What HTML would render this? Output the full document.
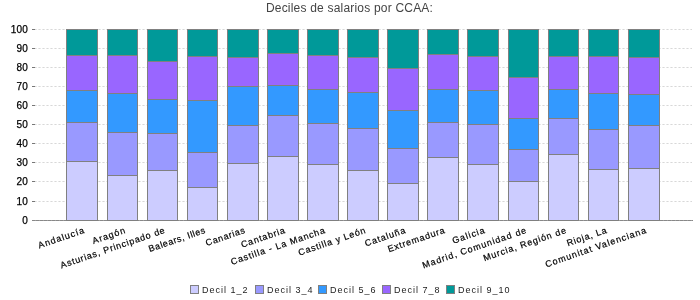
<!DOCTYPE html>
<html><head><meta charset="utf-8"><style>
html,body{margin:0;padding:0;background:#fff;}
body{width:700px;height:300px;position:relative;overflow:hidden;font-family:"Liberation Sans",sans-serif;}
.a{position:absolute;}
.t,.yl,.xl span,.lt{filter:grayscale(1);}
.t{position:absolute;left:-0.5px;width:700px;text-align:center;top:1px;font-size:12px;color:#444;line-height:15px;letter-spacing:0.2px;}
.yl{position:absolute;right:672px;font-size:10px;line-height:10px;color:#000;text-align:right;letter-spacing:0.2px;-webkit-text-stroke:0.25px #000;}
.tk{position:absolute;left:32px;width:3px;height:1px;background:#777;}
.gr{position:absolute;left:34px;width:658px;height:1px;background:repeating-linear-gradient(to right,#e8e8e8 0,#e8e8e8 1px,#d8d8d8 1px,#d8d8d8 2px,#e8e8e8 2px,#e8e8e8 3px,transparent 3px,transparent 4px);}
.s{position:absolute;box-sizing:border-box;border:1px solid #808080;}
.xl{position:absolute;width:0;height:0;}
.xl span{position:absolute;right:0;top:0;white-space:nowrap;font-size:9px;line-height:10px;color:#000;-webkit-text-stroke:0.2px #000;transform-origin:100% 0;transform:rotate(-19deg);letter-spacing:1px;}
.lg{position:absolute;top:285px;width:9px;height:9px;box-sizing:border-box;border:1px solid #808080;}
.lt{position:absolute;top:284.7px;font-size:9px;line-height:11px;color:#222;letter-spacing:1px;white-space:nowrap;}
</style></head><body>
<div class="t">Deciles de salarios por CCAA:</div>
<div class="gr" style="top:29px"></div><div class="tk" style="top:29px"></div><div class="yl" style="top:25px">100</div>
<div class="gr" style="top:48px"></div><div class="tk" style="top:48px"></div><div class="yl" style="top:44px">90</div>
<div class="gr" style="top:67px"></div><div class="tk" style="top:67px"></div><div class="yl" style="top:63px">80</div>
<div class="gr" style="top:86px"></div><div class="tk" style="top:86px"></div><div class="yl" style="top:82px">70</div>
<div class="gr" style="top:105px"></div><div class="tk" style="top:105px"></div><div class="yl" style="top:101px">60</div>
<div class="gr" style="top:124px"></div><div class="tk" style="top:124px"></div><div class="yl" style="top:120px">50</div>
<div class="gr" style="top:143px"></div><div class="tk" style="top:143px"></div><div class="yl" style="top:139px">40</div>
<div class="gr" style="top:162px"></div><div class="tk" style="top:162px"></div><div class="yl" style="top:158px">30</div>
<div class="gr" style="top:181px"></div><div class="tk" style="top:181px"></div><div class="yl" style="top:177px">20</div>
<div class="gr" style="top:201px"></div><div class="tk" style="top:201px"></div><div class="yl" style="top:197px">10</div>
<div class="tk" style="top:220px"></div><div class="yl" style="top:216px">0</div>
<div class="a" style="left:32px;top:220px;width:661px;height:1px;background:repeating-linear-gradient(to right,#888 0,#888 3px,#9c9c9c 3px,#9c9c9c 4px);"></div>
<div class="s" style="left:66px;top:29px;width:32px;height:27px;background:#009999"></div><div class="s" style="left:66px;top:55px;width:32px;height:36px;background:#9966ff"></div><div class="s" style="left:66px;top:90px;width:32px;height:33px;background:#3399ff"></div><div class="s" style="left:66px;top:122px;width:32px;height:40px;background:#9999ff"></div><div class="s" style="left:66px;top:161px;width:32px;height:60px;background:#ccccff"></div>
<div class="s" style="left:107px;top:29px;width:31px;height:27px;background:#009999"></div><div class="s" style="left:107px;top:55px;width:31px;height:39px;background:#9966ff"></div><div class="s" style="left:107px;top:93px;width:31px;height:40px;background:#3399ff"></div><div class="s" style="left:107px;top:132px;width:31px;height:44px;background:#9999ff"></div><div class="s" style="left:107px;top:175px;width:31px;height:46px;background:#ccccff"></div>
<div class="s" style="left:147px;top:29px;width:31px;height:33px;background:#009999"></div><div class="s" style="left:147px;top:61px;width:31px;height:39px;background:#9966ff"></div><div class="s" style="left:147px;top:99px;width:31px;height:35px;background:#3399ff"></div><div class="s" style="left:147px;top:133px;width:31px;height:38px;background:#9999ff"></div><div class="s" style="left:147px;top:170px;width:31px;height:51px;background:#ccccff"></div>
<div class="s" style="left:187px;top:29px;width:31px;height:28px;background:#009999"></div><div class="s" style="left:187px;top:56px;width:31px;height:45px;background:#9966ff"></div><div class="s" style="left:187px;top:100px;width:31px;height:53px;background:#3399ff"></div><div class="s" style="left:187px;top:152px;width:31px;height:36px;background:#9999ff"></div><div class="s" style="left:187px;top:187px;width:31px;height:34px;background:#ccccff"></div>
<div class="s" style="left:227px;top:29px;width:32px;height:29px;background:#009999"></div><div class="s" style="left:227px;top:57px;width:32px;height:30px;background:#9966ff"></div><div class="s" style="left:227px;top:86px;width:32px;height:40px;background:#3399ff"></div><div class="s" style="left:227px;top:125px;width:32px;height:39px;background:#9999ff"></div><div class="s" style="left:227px;top:163px;width:32px;height:58px;background:#ccccff"></div>
<div class="s" style="left:267px;top:29px;width:32px;height:25px;background:#009999"></div><div class="s" style="left:267px;top:53px;width:32px;height:33px;background:#9966ff"></div><div class="s" style="left:267px;top:85px;width:32px;height:31px;background:#3399ff"></div><div class="s" style="left:267px;top:115px;width:32px;height:42px;background:#9999ff"></div><div class="s" style="left:267px;top:156px;width:32px;height:65px;background:#ccccff"></div>
<div class="s" style="left:307px;top:29px;width:32px;height:27px;background:#009999"></div><div class="s" style="left:307px;top:55px;width:32px;height:35px;background:#9966ff"></div><div class="s" style="left:307px;top:89px;width:32px;height:35px;background:#3399ff"></div><div class="s" style="left:307px;top:123px;width:32px;height:42px;background:#9999ff"></div><div class="s" style="left:307px;top:164px;width:32px;height:57px;background:#ccccff"></div>
<div class="s" style="left:347px;top:29px;width:32px;height:29px;background:#009999"></div><div class="s" style="left:347px;top:57px;width:32px;height:36px;background:#9966ff"></div><div class="s" style="left:347px;top:92px;width:32px;height:37px;background:#3399ff"></div><div class="s" style="left:347px;top:128px;width:32px;height:43px;background:#9999ff"></div><div class="s" style="left:347px;top:170px;width:32px;height:51px;background:#ccccff"></div>
<div class="s" style="left:387px;top:29px;width:32px;height:40px;background:#009999"></div><div class="s" style="left:387px;top:68px;width:32px;height:43px;background:#9966ff"></div><div class="s" style="left:387px;top:110px;width:32px;height:39px;background:#3399ff"></div><div class="s" style="left:387px;top:148px;width:32px;height:36px;background:#9999ff"></div><div class="s" style="left:387px;top:183px;width:32px;height:38px;background:#ccccff"></div>
<div class="s" style="left:427px;top:29px;width:32px;height:26px;background:#009999"></div><div class="s" style="left:427px;top:54px;width:32px;height:36px;background:#9966ff"></div><div class="s" style="left:427px;top:89px;width:32px;height:34px;background:#3399ff"></div><div class="s" style="left:427px;top:122px;width:32px;height:36px;background:#9999ff"></div><div class="s" style="left:427px;top:157px;width:32px;height:64px;background:#ccccff"></div>
<div class="s" style="left:467px;top:29px;width:32px;height:28px;background:#009999"></div><div class="s" style="left:467px;top:56px;width:32px;height:35px;background:#9966ff"></div><div class="s" style="left:467px;top:90px;width:32px;height:35px;background:#3399ff"></div><div class="s" style="left:467px;top:124px;width:32px;height:41px;background:#9999ff"></div><div class="s" style="left:467px;top:164px;width:32px;height:57px;background:#ccccff"></div>
<div class="s" style="left:508px;top:29px;width:31px;height:49px;background:#009999"></div><div class="s" style="left:508px;top:77px;width:31px;height:42px;background:#9966ff"></div><div class="s" style="left:508px;top:118px;width:31px;height:32px;background:#3399ff"></div><div class="s" style="left:508px;top:149px;width:31px;height:33px;background:#9999ff"></div><div class="s" style="left:508px;top:181px;width:31px;height:40px;background:#ccccff"></div>
<div class="s" style="left:548px;top:29px;width:31px;height:28px;background:#009999"></div><div class="s" style="left:548px;top:56px;width:31px;height:34px;background:#9966ff"></div><div class="s" style="left:548px;top:89px;width:31px;height:30px;background:#3399ff"></div><div class="s" style="left:548px;top:118px;width:31px;height:37px;background:#9999ff"></div><div class="s" style="left:548px;top:154px;width:31px;height:67px;background:#ccccff"></div>
<div class="s" style="left:588px;top:29px;width:31px;height:28px;background:#009999"></div><div class="s" style="left:588px;top:56px;width:31px;height:38px;background:#9966ff"></div><div class="s" style="left:588px;top:93px;width:31px;height:37px;background:#3399ff"></div><div class="s" style="left:588px;top:129px;width:31px;height:41px;background:#9999ff"></div><div class="s" style="left:588px;top:169px;width:31px;height:52px;background:#ccccff"></div>
<div class="s" style="left:628px;top:29px;width:32px;height:29px;background:#009999"></div><div class="s" style="left:628px;top:57px;width:32px;height:38px;background:#9966ff"></div><div class="s" style="left:628px;top:94px;width:32px;height:32px;background:#3399ff"></div><div class="s" style="left:628px;top:125px;width:32px;height:44px;background:#9999ff"></div><div class="s" style="left:628px;top:168px;width:32px;height:53px;background:#ccccff"></div>
<div class="xl" style="left:82.80px;top:225.2px"><span style="letter-spacing:1px">Andalucía</span></div>
<div class="xl" style="left:123.80px;top:225.2px"><span style="letter-spacing:1px">Aragón</span></div>
<div class="xl" style="left:163.80px;top:225.2px"><span style="letter-spacing:0.78px">Asturias, Principado de</span></div>
<div class="xl" style="left:203.80px;top:225.2px"><span style="letter-spacing:0.59px">Balears, Illes</span></div>
<div class="xl" style="left:243.80px;top:225.2px"><span style="letter-spacing:0.68px">Canarias</span></div>
<div class="xl" style="left:283.80px;top:225.2px"><span style="letter-spacing:0.855px">Cantabria</span></div>
<div class="xl" style="left:323.80px;top:225.2px"><span style="letter-spacing:0.88px">Castilla - La Mancha</span></div>
<div class="xl" style="left:363.80px;top:225.2px"><span style="letter-spacing:0.81px">Castilla y León</span></div>
<div class="xl" style="left:403.80px;top:225.2px"><span style="letter-spacing:0.89px">Cataluña</span></div>
<div class="xl" style="left:443.80px;top:225.2px"><span style="letter-spacing:0.81px">Extremadura</span></div>
<div class="xl" style="left:483.80px;top:225.2px"><span style="letter-spacing:1px">Galicia</span></div>
<div class="xl" style="left:524.80px;top:225.2px"><span style="letter-spacing:0.95px">Madrid, Comunidad de</span></div>
<div class="xl" style="left:564.80px;top:225.2px"><span style="letter-spacing:0.87px">Murcia, Región de</span></div>
<div class="xl" style="left:604.80px;top:225.2px"><span style="letter-spacing:0.75px">Rioja, La</span></div>
<div class="xl" style="left:644.80px;top:225.2px"><span style="letter-spacing:0.98px">Comunitat Valenciana</span></div>
<div class="lg" style="left:190px;background:#ccccff"></div><div class="lt" style="left:202px">Decil 1_2</div>
<div class="lg" style="left:255px;background:#9999ff"></div><div class="lt" style="left:267px">Decil 3_4</div>
<div class="lg" style="left:318px;background:#3399ff"></div><div class="lt" style="left:330px">Decil 5_6</div>
<div class="lg" style="left:382px;background:#9966ff"></div><div class="lt" style="left:394px">Decil 7_8</div>
<div class="lg" style="left:446px;background:#009999"></div><div class="lt" style="left:458px">Decil 9_10</div>
</body></html>
